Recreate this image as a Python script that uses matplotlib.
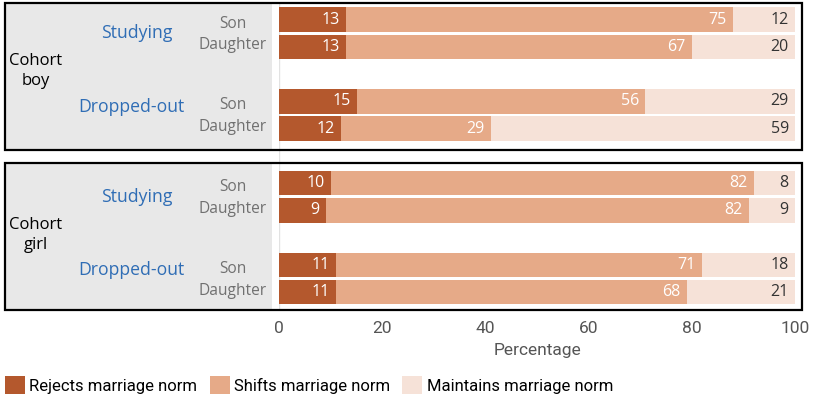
import matplotlib.pyplot as plt
import matplotlib.transforms as mtransforms
from matplotlib.patches import Rectangle, Patch

# data
cohorts = ["Cohort\nboy", "Cohort\ngirl"]
statuses = ["Studying", "Dropped-out"]
children = ["Son", "Daughter"]
rejects = [13, 13, 15, 12, 10, 9, 11, 11]
shifts = [75, 67, 56, 29, 82, 82, 71, 68]
maintains = [12, 20, 29, 59, 8, 9, 18, 21]
series_names = ["Rejects marriage norm", "Shifts marriage norm", "Maintains marriage norm"]
xticks = [0, 20, 40, 60, 80, 100]

colors = ["#b4582d", "#e6aa88", "#f6e2d8"]
label_colors = ["white", "white", "#333333"]
W, H = 813, 396
num_font = "Open Sans"
narrow = ["Liberation Sans Narrow", "Roboto"]

fig = plt.figure(figsize=(W / 100, H / 100), dpi=100)


def fx(px):
    return px / W


def fy(py):
    return 1 - py / H


# axes spans pixel rows 3..310, x from 279.3 (0%) to 795 (100%)
ax = fig.add_axes([fx(279.3), fy(310), fx(795) - fx(279.3), fy(3) - fy(310)])
ax.set_facecolor("none")

# row positions: pairs of bars with a blank row between groups
ypos = []
for g in range(len(cohorts) * len(statuses)):
    for c in range(len(children)):
        ypos.append(g * 3 + c)

segments = [rejects, shifts, maintains]
left = [0] * len(ypos)
for si, vals in enumerate(segments):
    bars = ax.barh(ypos, vals, left=left, height=0.9, color=colors[si], zorder=2)
    for b, v in zip(bars, vals):
        ax.annotate(str(v), (b.get_x() + b.get_width(), b.get_y() + b.get_height() / 2),
                    xytext=(-4.5, 0), textcoords="offset points", ha="right", va="center",
                    fontsize=11.5, color=label_colors[si], family=num_font, zorder=3)
    left = [l + v for l, v in zip(left, vals)]

ax.axvline(0, color="#e2e2e2", lw=1, zorder=1)
ax.set_xlim(0, 100)
ax.set_ylim(10.66, -0.606)
ax.set_yticks([])
ax.set_xticks(xticks)
ax.set_xticklabels([str(t) for t in xticks], family=narrow, fontsize=12.5, color="#555555")
ax.tick_params(axis="x", length=0, pad=8)
ax.set_xlabel("Percentage", family=narrow, fontsize=12.5, color="#555555", labelpad=5)
for s in ax.spines.values():
    s.set_visible(False)

# gray label panels and black outlines
for top, bottom in [(3, 150), (163, 310)]:
    fig.patches.append(Rectangle((fx(5), fy(bottom)), fx(272) - fx(5), fy(top) - fy(bottom),
                                 transform=fig.transFigure, facecolor="#e8e8e8",
                                 edgecolor="none", zorder=-1))
    fig.patches.append(Rectangle((fx(5), fy(bottom)), fx(802) - fx(5), fy(top) - fy(bottom),
                                 transform=fig.transFigure, facecolor="none",
                                 edgecolor="black", lw=1.6, zorder=5))

trans = mtransforms.blended_transform_factory(fig.transFigure, ax.transData)
for ci, cohort in enumerate(cohorts):
    base = ci * 6
    ax.text(fx(36), base + 1.9, cohort, transform=trans, ha="center", va="center",
            fontsize=12, family=num_font, color="black", linespacing=1.3)
    for si, status in enumerate(statuses):
        k = base + si * 3
        ax.text(fx(137 if si == 0 else 131), k + (0.5 if si == 0 else 0.2), status,
                transform=trans, ha="center", va="center", fontsize=12.7,
                family=num_font, color="#2f6db5")
        ax.text(fx(233), k + 0.15, children[0], transform=trans, ha="center",
                va="center", fontsize=11.2, family=num_font, color="#707070")
        ax.text(fx(233), k + 0.95, children[1], transform=trans, ha="center",
                va="center", fontsize=11.2, family=num_font, color="#707070")

handles = [Patch(facecolor=c, edgecolor="none") for c in colors]
fig.legend(handles, series_names, loc="lower left", bbox_to_anchor=(fx(5), fy(394)),
           ncol=3, frameon=False, borderpad=0, borderaxespad=0, handlelength=1.2,
           handleheight=1.3, handletextpad=0.25, columnspacing=0.75,
           prop={"family": narrow, "size": 12})

fig.savefig("out.png", dpi=100)
